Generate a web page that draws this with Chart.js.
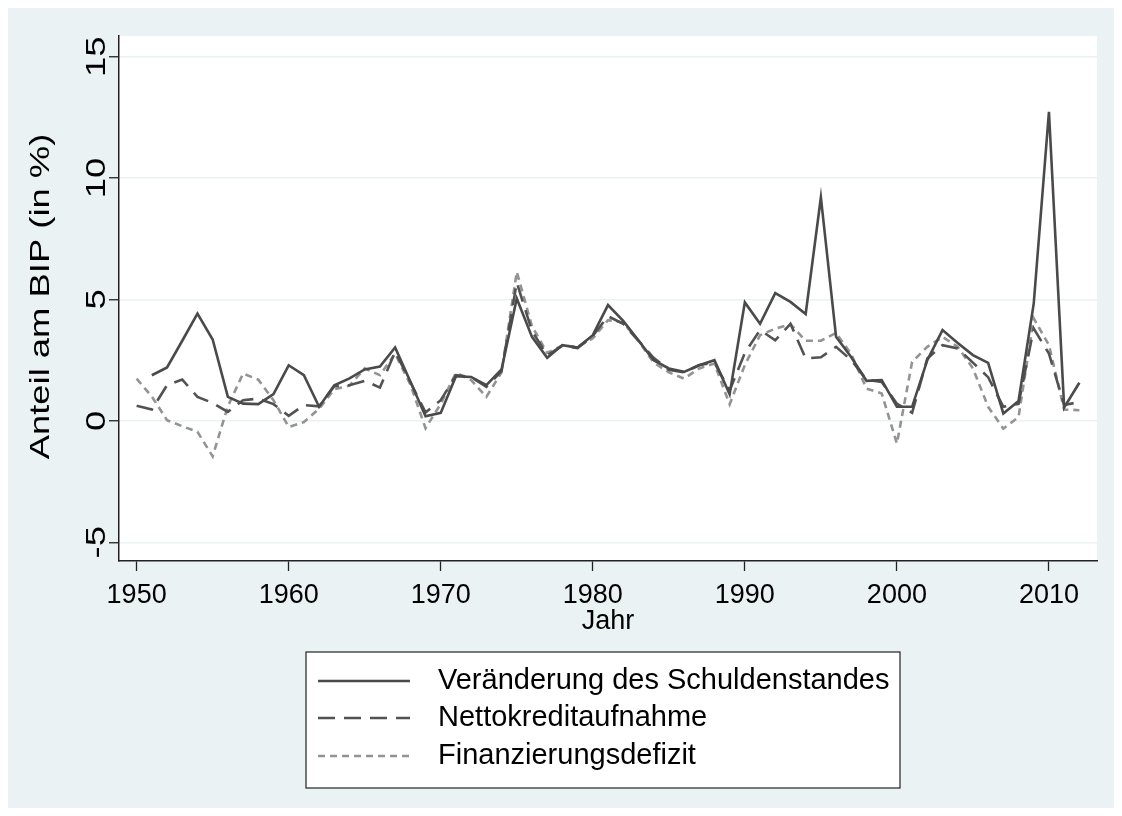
<!DOCTYPE html>
<html>
<head>
<meta charset="utf-8">
<script src="https://cdn.jsdelivr.net/npm/chart.js@4.4.0/dist/chart.umd.min.js"></script>
<style>
  html, body { margin: 0; padding: 0; background: #fff; }
  #wrap { width: 1122px; height: 816px; }
</style>
</head>
<body>
<div id="wrap"><canvas id="chart" width="1122" height="816"></canvas></div>
<script>
// Jahre 1950 - 2012
const years = [
  1950, 1951, 1952, 1953, 1954, 1955, 1956, 1957, 1958, 1959,
  1960, 1961, 1962, 1963, 1964, 1965, 1966, 1967, 1968, 1969,
  1970, 1971, 1972, 1973, 1974, 1975, 1976, 1977, 1978, 1979,
  1980, 1981, 1982, 1983, 1984, 1985, 1986, 1987, 1988, 1989,
  1990, 1991, 1992, 1993, 1994, 1995, 1996, 1997, 1998, 1999,
  2000, 2001, 2002, 2003, 2004, 2005, 2006, 2007, 2008, 2009,
  2010, 2011, 2012
];

// Veränderung des Schuldenstandes (in % des BIP)
const schulden = [
  null, 1.88, 2.20, 3.30, 4.42, 3.35, 0.99, 0.71, 0.69, 1.10,
  2.29, 1.88, 0.58, 1.47, 1.75, 2.12, 2.24, 3.02, 1.62, 0.19,
  0.33, 1.84, 1.81, 1.47, 2.12, 5.04, 3.46, 2.60, 3.12, 3.02,
  3.53, 4.77, 4.12, 3.32, 2.50, 2.16, 2.02, 2.29, 2.50, 1.10,
  4.88, 4.00, 5.26, 4.90, 4.40, 9.20, 3.46, 2.62, 1.65, 1.68,
  0.58, 0.58, 2.50, 3.74, 3.21, 2.71, 2.39, 0.30, 0.82, 4.84,
  12.73, 0.55, 1.57
];

// Nettokreditaufnahme
const netto = [
  0.62, 0.47, 1.47, 1.70, 0.99, 0.74, 0.37, 0.85, 0.92, 0.69,
  0.21, 0.65, 0.60, 1.43, 1.47, 1.65, 1.37, 2.85, 1.60, 0.35,
  0.85, 1.88, 1.80, 1.40, 2.05, 5.70, 3.70, 2.70, 3.10, 3.00,
  3.50, 4.31, 4.00, 3.30, 2.60, 2.10, 2.00, 2.30, 2.40, 1.25,
  2.80, 3.74, 3.32, 4.00, 2.57, 2.62, 3.05, 2.50, 1.70, 1.60,
  0.71, 0.33, 2.57, 3.12, 2.98, 2.40, 1.80, 0.58, 0.70, 3.80,
  2.77, 0.65, 0.78
];

// Finanzierungsdefizit
const defizit = [
  1.74, 1.00, 0.03, -0.22, -0.45, -1.46, 0.60, 1.95, 1.70, 0.85,
  -0.25, -0.05, 0.50, 1.30, 1.45, 2.16, 1.88, 2.77, 1.50, -0.30,
  0.70, 1.98, 1.68, 0.99, 2.00, 6.14, 3.90, 2.80, 3.10, 3.05,
  3.40, 4.15, 4.05, 3.30, 2.40, 2.00, 1.74, 2.16, 2.36, 0.68,
  2.30, 3.53, 3.80, 3.98, 3.30, 3.30, 3.62, 2.75, 1.33, 1.13,
  -0.93, 2.43, 3.05, 3.46, 3.05, 2.16, 0.58, -0.32, 0.16, 4.22,
  3.12, 0.47, 0.44
];

const xTicks = [1950, 1960, 1970, 1980, 1990, 2000, 2010];
const yTicks = [-5, 0, 5, 10, 15];
const yTitle = 'Anteil am BIP (in %)';

const bgColor = '#EAF2F3';
const axisColor = '#222';
const textColor = '#000';
const fontFam = '"Liberation Sans", Arial, sans-serif';
// rotated text in the original export is stretched along its baseline
const rotStretch = 1.3;

const toPoints = vals => years.map((yr, i) => ({ x: yr, y: vals[i] }));

// background + plot area fill
const bgPlugin = {
  id: 'bg',
  beforeDraw(chart) {
    const { ctx, chartArea: a } = chart;
    ctx.save();
    ctx.fillStyle = '#fff';
    ctx.fillRect(0, 0, chart.width, chart.height);
    ctx.fillStyle = bgColor;
    ctx.fillRect(8, 8, chart.width - 16, chart.height - 16);
    ctx.fillStyle = '#fff';
    ctx.fillRect(a.left, a.top, a.right - a.left, a.bottom - a.top);
    ctx.restore();
  }
};

function drawRotated(ctx, text, x, y, size) {
  ctx.save();
  ctx.translate(x, y);
  ctx.rotate(-Math.PI / 2);
  ctx.scale(rotStretch, 1);
  ctx.font = size + 'px ' + fontFam;
  ctx.fillStyle = textColor;
  ctx.textAlign = 'center';
  ctx.textBaseline = 'middle';
  ctx.fillText(text, 0, 0);
  ctx.restore();
}

// y tick labels and y title, placed from the y scale
const yLabelPlugin = {
  id: 'yLabels',
  afterDraw(chart) {
    const ys = chart.scales.y;
    const a = chart.chartArea;
    ys.ticks.forEach(t => {
      drawRotated(chart.ctx, String(t.value), a.left - 22, ys.getPixelForValue(t.value), 28);
    });
    drawRotated(chart.ctx, yTitle, 41, (a.top + a.bottom) / 2 - 2, 28);
  }
};

// Stata-like legend box under the plot
const legendPlugin = {
  id: 'boxLegend',
  afterDraw(chart) {
    const ctx = chart.ctx;
    const bx = 306, by = 652, bw = 594, bh = 136;
    ctx.save();
    ctx.fillStyle = '#fff';
    ctx.fillRect(bx, by, bw, bh);
    ctx.strokeStyle = axisColor;
    ctx.lineWidth = 1.2;
    ctx.strokeRect(bx, by, bw, bh);
    const rowY = [681, 718, 756];
    chart.data.datasets.forEach((ds, i) => {
      const y = rowY[i];
      ctx.beginPath();
      ctx.strokeStyle = ds.borderColor;
      ctx.lineWidth = ds.borderWidth;
      ctx.setLineDash(ds.borderDash || []);
      ctx.moveTo(318, y);
      ctx.lineTo(410, y);
      ctx.stroke();
      ctx.setLineDash([]);
      ctx.fillStyle = textColor;
      ctx.font = '29px ' + fontFam;
      ctx.textBaseline = 'middle';
      ctx.textAlign = 'left';
      ctx.fillText(ds.label, 438, y);
    });
    ctx.restore();
  }
};

new Chart(document.getElementById('chart'), {
  type: 'line',
  data: {
    datasets: [
      {
        label: 'Veränderung des Schuldenstandes',
        data: toPoints(schulden),
        borderColor: '#4a4a4a',
        borderWidth: 2.6
      },
      {
        label: 'Nettokreditaufnahme',
        data: toPoints(netto),
        borderColor: '#525252',
        borderWidth: 2.6,
        borderDash: [17, 9]
      },
      {
        label: 'Finanzierungsdefizit',
        data: toPoints(defizit),
        borderColor: '#939393',
        borderWidth: 2.6,
        borderDash: [7, 5]
      }
    ]
  },
  options: {
    responsive: false,
    animation: false,
    devicePixelRatio: 1,
    spanGaps: false,
    elements: { point: { radius: 0 }, line: { tension: 0 } },
    layout: { padding: { left: 0, right: 25, top: 36, bottom: 175 } },
    plugins: { legend: { display: false }, tooltip: { enabled: false } },
    scales: {
      x: {
        type: 'linear',
        min: 1948.84,
        max: 2013.16,
        afterBuildTicks: s => { s.ticks = xTicks.map(v => ({ value: v })); },
        afterFit: s => { s.height = 80; },
        grid: { drawOnChartArea: false, tickColor: axisColor, tickLength: 10, tickWidth: 1.3 },
        border: { color: axisColor, width: 1.5 },
        ticks: {
          padding: 8, maxRotation: 0, color: textColor,
          font: { family: fontFam, size: 27 },
          callback: v => String(v)
        },
        title: {
          display: true, text: 'Jahr', color: textColor,
          font: { family: fontFam, size: 27 },
          padding: { top: 0, bottom: 3 }
        }
      },
      y: {
        min: -5.77,
        max: 15.85,
        afterBuildTicks: s => { s.ticks = yTicks.map(v => ({ value: v })); },
        afterFit: s => { s.width = 119; },
        grid: { color: bgColor, lineWidth: 1.5, tickColor: axisColor, tickLength: 10, tickWidth: 1.3 },
        border: { color: axisColor, width: 1.5 },
        ticks: { display: false },
        title: { display: false }
      }
    }
  },
  plugins: [bgPlugin, yLabelPlugin, legendPlugin]
});
</script>
</body>
</html>
